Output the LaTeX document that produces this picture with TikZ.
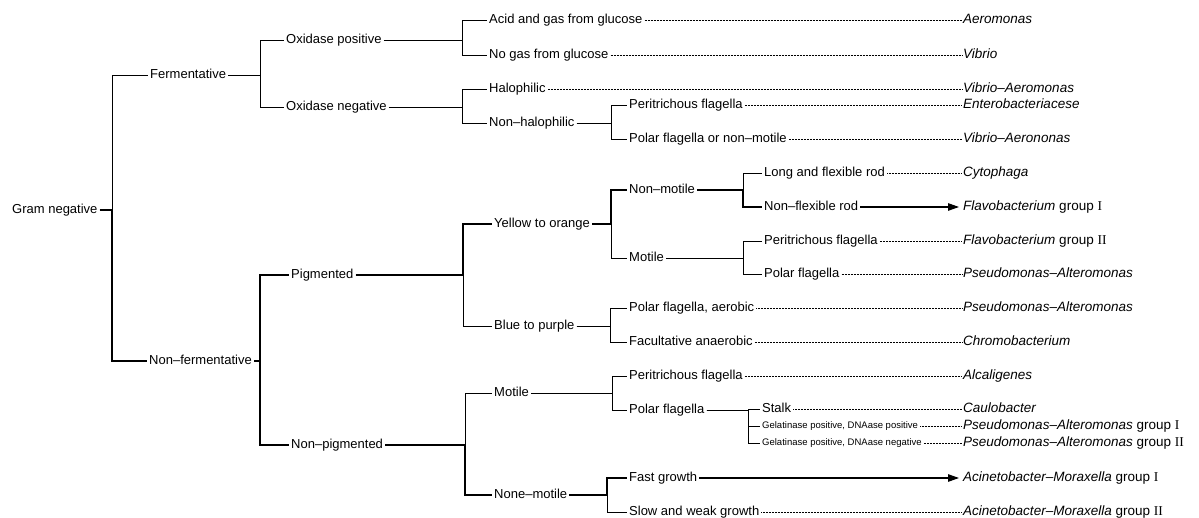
\documentclass[tikz,border=0pt]{standalone}
\usepackage{fontspec}
\setmainfont{Liberation Sans}
\newfontfamily\romfont{Liberation Serif}
\usetikzlibrary{arrows.meta}

\newcommand\labfont{\fontsize{13}{15}\selectfont}
\newcommand\smallfont{\fontsize{9.5}{11}\selectfont}
\newcommand\taxfont{\fontsize{13.5}{16}\selectfont}
% parent -> bracket column -> child
\newcommand\branchto[4][]{\draw[conn,#1] (#2.east) -- (#2.east -| #3) |- (#4.west);}

\tikzset{
    lab/.style={anchor=west,inner sep=2pt,font=\labfont,text height=9pt,text depth=2.5pt},
    lab small/.style={lab,font=\smallfont,text height=7pt,text depth=2pt},
    taxon/.style={anchor=west,inner sep=1pt,font=\taxfont,text height=10pt,text depth=3pt},
    conn/.style={line width=0.8pt},
    hot/.style={line width=1.9pt},
    lead/.style={line width=0.6pt,dash pattern=on 0.6pt off 0.9pt},
    arr/.style={line width=1.1pt,-{Triangle[length=11pt,width=7.5pt]},shorten >=3pt},
}

\begin{document}
\begin{tikzpicture}[x=1pt,y=-1pt]
    \useasboundingbox (0,0) rectangle (1199,518);

    % decision labels
    \node[lab] (gram)  at (10,210)  {Gram negative};
    \node[lab] (ferm)  at (148,75)  {Fermentative};
    \node[lab] (nferm) at (147,361) {Non–fermentative};
    \node[lab] (oxp)   at (284,40)  {Oxidase positive};
    \node[lab] (oxn)   at (284,107) {Oxidase negative};
    \node[lab] (acid)  at (487,20)  {Acid and gas from glucose};
    \node[lab] (nogas) at (487,55)  {No gas from glucose};
    \node[lab] (halo)  at (487,89)  {Halophilic};
    \node[lab] (nhalo) at (487,123) {Non–halophilic};
    \node[lab] (perA)  at (627,105) {Peritrichous flagella};
    \node[lab] (polA)  at (627,139) {Polar flagella or non–motile};
    \node[lab] (pig)   at (289,275) {Pigmented};
    \node[lab] (npig)  at (289,445) {Non–pigmented};
    \node[lab] (yel)   at (492,224) {Yellow to orange};
    \node[lab] (blue)  at (492,326) {Blue to purple};
    \node[lab] (nmot)  at (627,190) {Non–motile};
    \node[lab] (mot)   at (627,258) {Motile};
    \node[lab] (long)  at (762,173) {Long and flexible rod};
    \node[lab] (nflex) at (762,207) {Non–flexible rod};
    \node[lab] (perB)  at (762,241) {Peritrichous flagella};
    \node[lab] (polB)  at (762,274) {Polar flagella};
    \node[lab] (aer)   at (627,308) {Polar flagella, aerobic};
    \node[lab] (fac)   at (627,342) {Facultative anaerobic};
    \node[lab] (motC)  at (492,393) {Motile};
    \node[lab] (nonem) at (492,495) {None–motile};
    \node[lab] (perC)  at (627,376) {Peritrichous flagella};
    \node[lab] (polC)  at (627,410) {Polar flagella};
    \node[lab] (stalk) at (760,409) {Stalk};
    \node[lab small] (gelp) at (760,426) {Gelatinase positive, DNAase positive};
    \node[lab small] (geln) at (760,443) {Gelatinase positive, DNAase negative};
    \node[lab] (fast)  at (627,478) {Fast growth};
    \node[lab] (slow)  at (627,512) {Slow and weak growth};

    % bracket columns
    \coordinate (kRoot)  at (112,0);
    \coordinate (kFerm)  at (260,0);
    \coordinate (kOx)    at (462,0);
    \coordinate (kNhalo) at (611,0);
    \coordinate (kNferm) at (260,0);
    \coordinate (kPig)   at (463,0);
    \coordinate (kYel)   at (611,0);
    \coordinate (kNmot)  at (743,0);
    \coordinate (kBlue)  at (610,0);
    \coordinate (kNpig)  at (465,0);
    \coordinate (kMotC)  at (612,0);
    \coordinate (kPolC)  at (748,0);
    \coordinate (kNonem) at (607,0);
    \coordinate (xres)   at (962,0);

    \branchto{gram}{kRoot}{ferm}
    \branchto{ferm}{kFerm}{oxp}
    \branchto{ferm}{kFerm}{oxn}
    \branchto{oxp}{kOx}{acid}
    \branchto{oxp}{kOx}{nogas}
    \branchto{oxn}{kOx}{halo}
    \branchto{oxn}{kOx}{nhalo}
    \branchto{nhalo}{kNhalo}{perA}
    \branchto{nhalo}{kNhalo}{polA}
    \branchto{pig}{kPig}{blue}
    \branchto{yel}{kYel}{mot}
    \branchto{nmot}{kNmot}{long}
    \branchto{mot}{kNmot}{perB}
    \branchto{mot}{kNmot}{polB}
    \branchto{blue}{kBlue}{aer}
    \branchto{blue}{kBlue}{fac}
    \branchto{npig}{kNpig}{motC}
    \branchto{motC}{kMotC}{perC}
    \branchto{motC}{kMotC}{polC}
    \branchto{polC}{kPolC}{stalk}
    \branchto{polC}{kPolC}{gelp}
    \branchto{polC}{kPolC}{geln}
    \branchto{nonem}{kNonem}{slow}

    % the two highlighted routes
    \branchto[hot]{gram}{kRoot}{nferm}
    \branchto[hot]{nferm}{kNferm}{pig}
    \branchto[hot]{nferm}{kNferm}{npig}
    \branchto[hot]{pig}{kPig}{yel}
    \branchto[hot]{yel}{kYel}{nmot}
    \branchto[hot]{nmot}{kNmot}{nflex}
    \branchto[hot]{npig}{kNpig}{nonem}
    \branchto[hot]{nonem}{kNonem}{fast}

    % results
    \foreach \leaf/\how/\res in {
        acid/lead/{\textit{Aeromonas}},
        nogas/lead/{\textit{Vibrio}},
        halo/lead/{\textit{Vibrio–Aeromonas}},
        perA/lead/{\textit{Enterobacteriacese}},
        polA/lead/{\textit{Vibrio–Aerononas}},
        long/lead/{\textit{Cytophaga}},
        nflex/arr/{\textit{Flavobacterium} group {\romfont I}},
        perB/lead/{\textit{Flavobacterium} group {\romfont II}},
        polB/lead/{\textit{Pseudomonas–Alteromonas}},
        aer/lead/{\textit{Pseudomonas–Alteromonas}},
        fac/lead/{\textit{Chromobacterium}},
        perC/lead/{\textit{Alcaligenes}},
        stalk/lead/{\textit{Caulobacter}},
        gelp/lead/{\textit{Pseudomonas–Alteromonas} group {\romfont I}},
        geln/lead/{\textit{Pseudomonas–Alteromonas} group {\romfont II}},
        fast/arr/{\textit{Acinetobacter–Moraxella} group {\romfont I}},
        slow/lead/{\textit{Acinetobacter–Moraxella} group {\romfont II}}%
    }{%
        \node[taxon] (r\leaf) at (\leaf -| xres) {\res};
        \draw[\how] (\leaf.east) -- (r\leaf.west);
    }

\end{tikzpicture}
\end{document}
